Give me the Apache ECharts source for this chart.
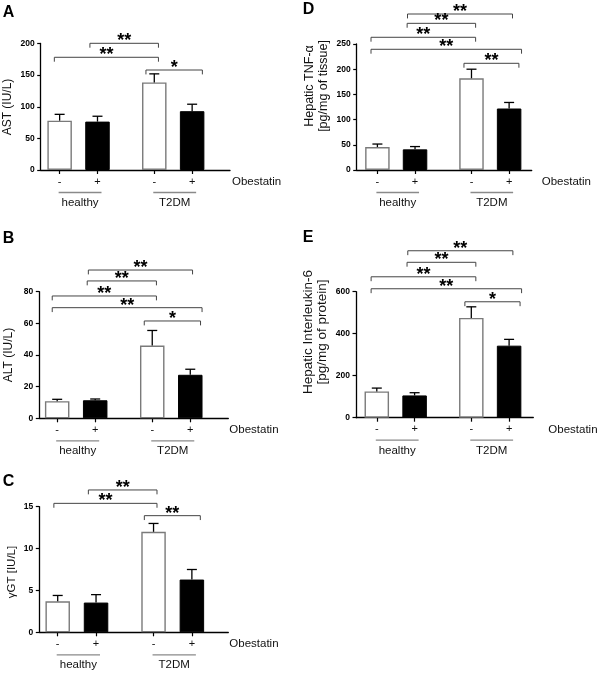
<!DOCTYPE html>
<html>
<head>
<meta charset="utf-8">
<script src="https://cdn.jsdelivr.net/npm/echarts@6/dist/echarts.min.js"></script>
<style>html,body{margin:0;padding:0;background:#fff}#c{width:600px;height:674px}</style>
</head>
<body>
<div id="c"></div>
<script>
// ---------- data ----------
const barLabels = ['-', '+', '-', '+'];
const groupNames = ['healthy', 'T2DM'];
const factorName = 'Obestatin';

const astMean = [78, 76.5, 138.5, 93];
const astSem  = [10, 8.5, 13.5, 11];
const astTicks = [0, 50, 100, 150, 200];

const altMean = [10.8, 11.4, 46, 27.5];
const altSem  = [1.2, 0.8, 9.5, 3.5];
const altTicks = [0, 20, 40, 60, 80];

const ggtMean = [3.7, 3.55, 12, 6.3];
const ggtSem  = [0.7, 0.95, 1.0, 1.2];
const ggtTicks = [0, 5, 10, 15];

const tnfMean = [45.5, 41, 182, 122];
const tnfSem  = [6, 5.5, 18, 12];
const tnfTicks = [0, 50, 100, 150, 200, 250];

const il6Mean = [125, 106, 475, 343];
const il6Sem  = [16, 13, 53, 30];
const il6Ticks = [0, 200, 400, 600];

// significance brackets: [from x, to x, level, stars]
const bracketsA = [[0.80, 2.61, 200.3, '**'], [-0.14, 2.61, 178.2, '**'], [2.28, 3.77, 158.1, '*']];
const bracketsB = [[0.82, 3.56, 93.7, '**'], [0.79, 2.61, 86.8, '**'], [-0.13, 2.61, 77.3, '**'], [-0.13, 3.81, 69.9, '**'], [2.29, 3.77, 61.5, '*']];
const bracketsC = [[0.80, 2.59, 17.0, '**'], [-0.10, 2.59, 15.4, '**'], [2.26, 3.72, 13.93, '**']];
const bracketsD = [[0.80, 3.59, 309.5, '**'], [0.79, 2.61, 291, '**'], [-0.17, 2.61, 263.3, '**'], [-0.17, 3.83, 239.5, '**'], [2.30, 3.76, 211.7, '**']];
const bracketsE = [[0.82, 3.60, 795, '**'], [0.80, 2.62, 740, '**'], [-0.15, 2.62, 671, '**'], [-0.15, 3.83, 614, '**'], [2.33, 3.79, 552, '*']];

// ---------- layout ----------
const slots = [0, 1, 2.5, 3.5];          // x slot of each bar on the axis
const groupSlots = [[0, 1], [2.5, 3.5]];  // slots spanned by each group
const FONT = '"Liberation Sans", Arial, sans-serif';

const panels = [
  {letter: 'A', mean: astMean, sem: astSem, ticks: astTicks, brackets: bracketsA, title: ['AST (IU/L)'],
   L: {left: 40.7, top: 43.5, width: 189.3, height: 126.5, xMin: -0.5, xMax: 4.5, nameGap: 2, lx: 2.7, ly: 12.2, tx: 7.5, ty: 107, tf: 12, lh: 13}},
  {letter: 'B', mean: altMean, sem: altSem, ticks: altTicks, brackets: bracketsB, title: ['ALT (IU/L)'],
   L: {left: 39.3, top: 291.7, width: 189, height: 126.6, xMin: -0.47, xMax: 4.5, nameGap: 1, lx: 2.7, ly: 239, tx: 8.7, ty: 355, tf: 12, lh: 13}},
  {letter: 'C', mean: ggtMean, sem: ggtSem, ticks: ggtTicks, brackets: bracketsC, title: ['γGT [IU/L]'],
   L: {left: 39.3, top: 506.7, width: 189, height: 125.6, xMin: -0.48, xMax: 4.45, nameGap: 1, lx: 2.7, ly: 481.7, tx: 12, ty: 572, tf: 11.5, lh: 13}},
  {letter: 'D', mean: tnfMean, sem: tnfSem, ticks: tnfTicks, brackets: bracketsD, title: ['Hepatic TNF-α', '[pg/mg of tissue]'],
   L: {left: 356.7, top: 44, width: 175, height: 126, xMin: -0.55, xMax: 4.1, nameGap: 10, lx: 302.7, ly: 9.2, tx: 316.5, ty: 86, tf: 12.5, lh: 13.3}},
  {letter: 'E', mean: il6Mean, sem: il6Sem, ticks: il6Ticks, brackets: bracketsE, title: ['Hepatic Interleukin-6', '[pg/mg of protein]'],
   L: {left: 356, top: 291.7, width: 177.3, height: 126, xMin: -0.55, xMax: 4.14, nameGap: 15, lx: 302.7, ly: 237.5, tx: 315.6, ty: 332, tf: 13.5, lh: 14}}
];

const grid = [], xAxis = [], yAxis = [], series = [], graphic = [];

panels.forEach((p, i) => {
  const L = p.L;
  grid.push({left: L.left, top: L.top, width: L.width, height: L.height, containLabel: false});
  xAxis.push({
    type: 'value', gridIndex: i, min: L.xMin, max: L.xMax,
    splitLine: {show: false},
    axisLine: {show: true, onZero: false, lineStyle: {color: '#000', width: 1.3}},
    axisTick: {show: true, customValues: slots, length: 4, lineStyle: {color: '#000', width: 1.2}},
    axisLabel: {show: true, customValues: slots, margin: 6, color: '#111', fontSize: 11, fontFamily: FONT,
      formatter: v => { const k = slots.indexOf(v); return k >= 0 ? barLabels[k] : ''; }},
    name: factorName, nameLocation: 'end', nameGap: L.nameGap,
    nameTextStyle: {fontFamily: FONT, fontSize: 11.5, color: '#111', align: 'left', verticalAlign: 'top', padding: [6, 0, 0, 0]}
  });
  const t = p.ticks;
  yAxis.push({
    type: 'value', gridIndex: i, min: t[0], max: t[t.length - 1], interval: t[1] - t[0],
    splitLine: {show: false},
    axisLine: {show: true, onZero: false, lineStyle: {color: '#000', width: 1.3}},
    axisTick: {show: true, length: 3.5, lineStyle: {color: '#000', width: 1.2}},
    axisLabel: {margin: 6, fontSize: 8.5, fontWeight: 'bold', color: '#000', fontFamily: FONT}
  });

  // bars
  series.push({
    type: 'bar', xAxisIndex: i, yAxisIndex: i, barWidth: 24.5, silent: true,
    data: p.mean.map((v, k) => ({
      value: [slots[k], v],
      itemStyle: barLabels[k] === '-'
        ? {color: '#fff', borderColor: '#7a7a7a', borderWidth: 1.4}
        : {color: '#000', borderColor: '#000', borderWidth: 1}
    }))
  });

  // error bars (upper SEM)
  series.push({
    type: 'custom', xAxisIndex: i, yAxisIndex: i, clip: false, silent: true, z: 3,
    encode: {x: 0, y: [1, 2]},
    data: p.mean.map((v, k) => [slots[k], v, v + p.sem[k]]),
    renderItem: (params, api) => {
      const b = api.coord([api.value(0), api.value(1)]);
      const e = api.coord([api.value(0), api.value(2)]);
      return {type: 'group', children: [
        {type: 'line', shape: {x1: b[0], y1: b[1], x2: e[0], y2: e[1]}, style: {stroke: '#000', lineWidth: 1.3}},
        {type: 'line', shape: {x1: e[0] - 5, y1: e[1], x2: e[0] + 5, y2: e[1]}, style: {stroke: '#000', lineWidth: 1.3}}
      ]};
    }
  });

  // significance brackets
  series.push({
    type: 'custom', xAxisIndex: i, yAxisIndex: i, clip: false, silent: true, z: 4,
    encode: {x: [0, 1], y: 2},
    data: p.brackets.map(b => [b[0], b[1], b[2]]),
    renderItem: (params, api) => {
      const a = api.coord([api.value(0), api.value(2)]);
      const c = api.coord([api.value(1), api.value(2)]);
      return {type: 'group', children: [
        {type: 'polyline', shape: {points: [[a[0], a[1] + 4.4], [a[0], a[1]], [c[0], c[1]], [c[0], c[1] + 4.4]]},
         style: {stroke: '#444', lineWidth: 1, fill: null}},
        {type: 'text', style: {text: p.brackets[params.dataIndex][3], x: (a[0] + c[0]) / 2, y: a[1] - 2,
         align: 'center', verticalAlign: 'middle', font: 'bold 18px ' + FONT, fill: '#000'}}
      ]};
    }
  });

  // group labels
  series.push({
    type: 'custom', xAxisIndex: i, yAxisIndex: i, clip: false, silent: true, z: 4,
    encode: {x: [0, 1], y: 2},
    data: groupSlots.map(g => [g[0], g[1], t[0]]),
    renderItem: (params, api) => {
      const a = api.coord([api.value(0), api.value(2)]);
      const c = api.coord([api.value(1), api.value(2)]);
      const x1 = a[0] - 1, x2 = c[0] + 4, y = a[1] + 22.5;
      return {type: 'group', children: [
        {type: 'line', shape: {x1: x1, y1: y, x2: x2, y2: y}, style: {stroke: '#8a8a8a', lineWidth: 1.3}},
        {type: 'text', style: {text: groupNames[params.dataIndex], x: (x1 + x2) / 2, y: y + 10.5,
         align: 'center', verticalAlign: 'middle', font: '11.5px ' + FONT, fill: '#111'}}
      ]};
    }
  });

  // panel letter
  graphic.push({type: 'text', x: L.lx, y: L.ly, style: {text: p.letter, font: 'bold 16px ' + FONT, fill: '#000', align: 'left', verticalAlign: 'middle'}});
  // y-axis title
  graphic.push({type: 'text', x: L.tx, y: L.ty, rotation: Math.PI / 2,
    style: {text: p.title.join('\n'), font: L.tf + 'px ' + FONT, lineHeight: L.lh, fill: '#111', align: 'center', verticalAlign: 'middle'}});
});

const chart = echarts.init(document.getElementById('c'), null, {renderer: 'canvas'});
chart.setOption({animation: false, backgroundColor: '#fff', grid, xAxis, yAxis, series, graphic});
</script>
</body>
</html>
